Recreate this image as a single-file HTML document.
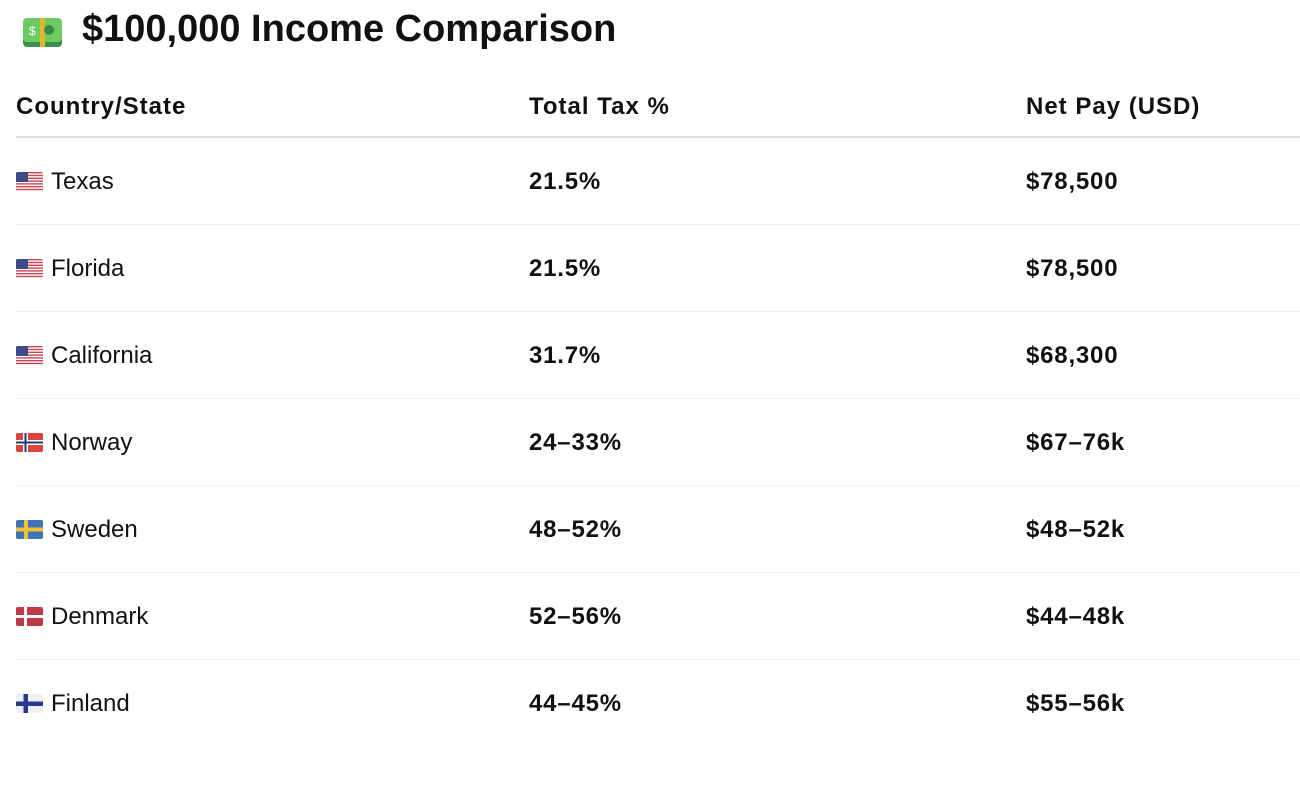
<!DOCTYPE html>
<html><head><meta charset="utf-8">
<style>
body{margin:0;width:1300px;height:793px;background:#fff;font-family:"Liberation Sans",sans-serif;color:#111;position:relative;overflow:hidden}
.a{position:absolute;white-space:nowrap}
h1{position:absolute;left:82px;top:7px;margin:0;font-size:38px;font-weight:bold;line-height:44px}
.hd{font-size:24px;font-weight:bold;line-height:30px;top:92px;letter-spacing:1px}
.cell{font-size:24px;line-height:30px}
.b{font-weight:bold;letter-spacing:0.8px}
.line{position:absolute;left:16px;width:1284px;height:1px;background:#eee}
.flag{position:absolute;width:27px;height:19px;border-radius:2px;overflow:hidden}
</style></head><body>
<div class="a" style="left:23px;top:18px;width:39px;height:29px">
<svg width="39" height="29"><rect x="0" y="2" width="39" height="27" rx="4" fill="#3d8f4f"/><rect x="0" y="0" width="39" height="24" rx="4" fill="#6ecb63"/><rect x="17" y="0" width="5" height="29" fill="#e8b52a"/><circle cx="26" cy="12" r="5" fill="#3a8a47"/><text x="6" y="17" font-size="12" fill="#fff" font-family="Liberation Sans">$</text></svg></div>
<h1>$100,000 Income Comparison</h1>
<div class="a hd" style="left:16px">Country/State</div>
<div class="a hd" style="left:529px">Total Tax %</div>
<div class="a hd" style="left:1026px">Net Pay (USD)</div>
<div class="line" style="top:136px;height:2px;background:#ddd"></div>
<div id="rows"></div>
<script>
const names=["Texas","Florida","California","Norway","Sweden","Denmark","Finland"];
const taxes=["21.5%","21.5%","31.7%","24–33%","48–52%","52–56%","44–45%"];
const pays=["$78,500","$78,500","$68,300","$67–76k","$48–52k","$44–48k","$55–56k"];
const flags=["us","us","us","no","se","dk","fi"];
function flagSvg(f){
 if(f==="us"){let s='<svg width="27" height="19"><rect width="27" height="19" fill="#fff"/>';for(let i=0;i<7;i++)s+=`<rect y="${i*2.8}" width="27" height="1.4" fill="#c8454f"/>`;return s+'<rect width="12" height="10" fill="#3c4a8a"/></svg>';}
 if(f==="no")return '<svg width="27" height="19"><rect width="27" height="19" fill="#d9453c"/><rect x="7" width="5" height="19" fill="#fff"/><rect y="7" width="27" height="5" fill="#fff"/><rect x="8.5" width="2" height="19" fill="#1f3a7a"/><rect y="8.5" width="27" height="2" fill="#1f3a7a"/></svg>';
 if(f==="se")return '<svg width="27" height="19"><rect width="27" height="19" fill="#3f73b5"/><rect x="8" width="4" height="19" fill="#f0c233"/><rect y="7.5" width="27" height="4" fill="#f0c233"/></svg>';
 if(f==="dk")return '<svg width="27" height="19"><rect width="27" height="19" fill="#bf3a45"/><rect x="8" width="3" height="19" fill="#fff"/><rect y="8" width="27" height="3" fill="#fff"/></svg>';
 return '<svg width="27" height="19"><rect width="27" height="19" fill="#eef0f4"/><rect x="7.5" width="4.5" height="19" fill="#253a8c"/><rect y="7.5" width="27" height="4.5" fill="#253a8c"/></svg>';
}
const root=document.getElementById('rows');
names.forEach((n,i)=>{
 const cy=182+i*87;
 const fl=document.createElement('div');fl.className='flag';fl.style.left='16px';fl.style.top=(cy-10)+'px';fl.innerHTML=flagSvg(flags[i]);
 
 
 root.appendChild(fl);
 const a=document.createElement('div');a.className='a cell';a.style.left='51px';a.style.top=(cy-15)+'px';a.textContent=n;
 
 
 root.appendChild(a);
 const b=document.createElement('div');b.className='a cell b';b.style.left='529px';b.style.top=(cy-15)+'px';b.textContent=taxes[i];
 
 
 root.appendChild(b);
 const c=document.createElement('div');c.className='a cell b';c.style.left='1026px';c.style.top=(cy-15)+'px';c.textContent=pays[i];
 
 
 root.appendChild(c);
 if(i<names.length-1){const l=document.createElement('div');l.className='line';l.style.top=(cy+42)+'px';
 
 
 root.appendChild(l);}
});
</script>
</body></html>
